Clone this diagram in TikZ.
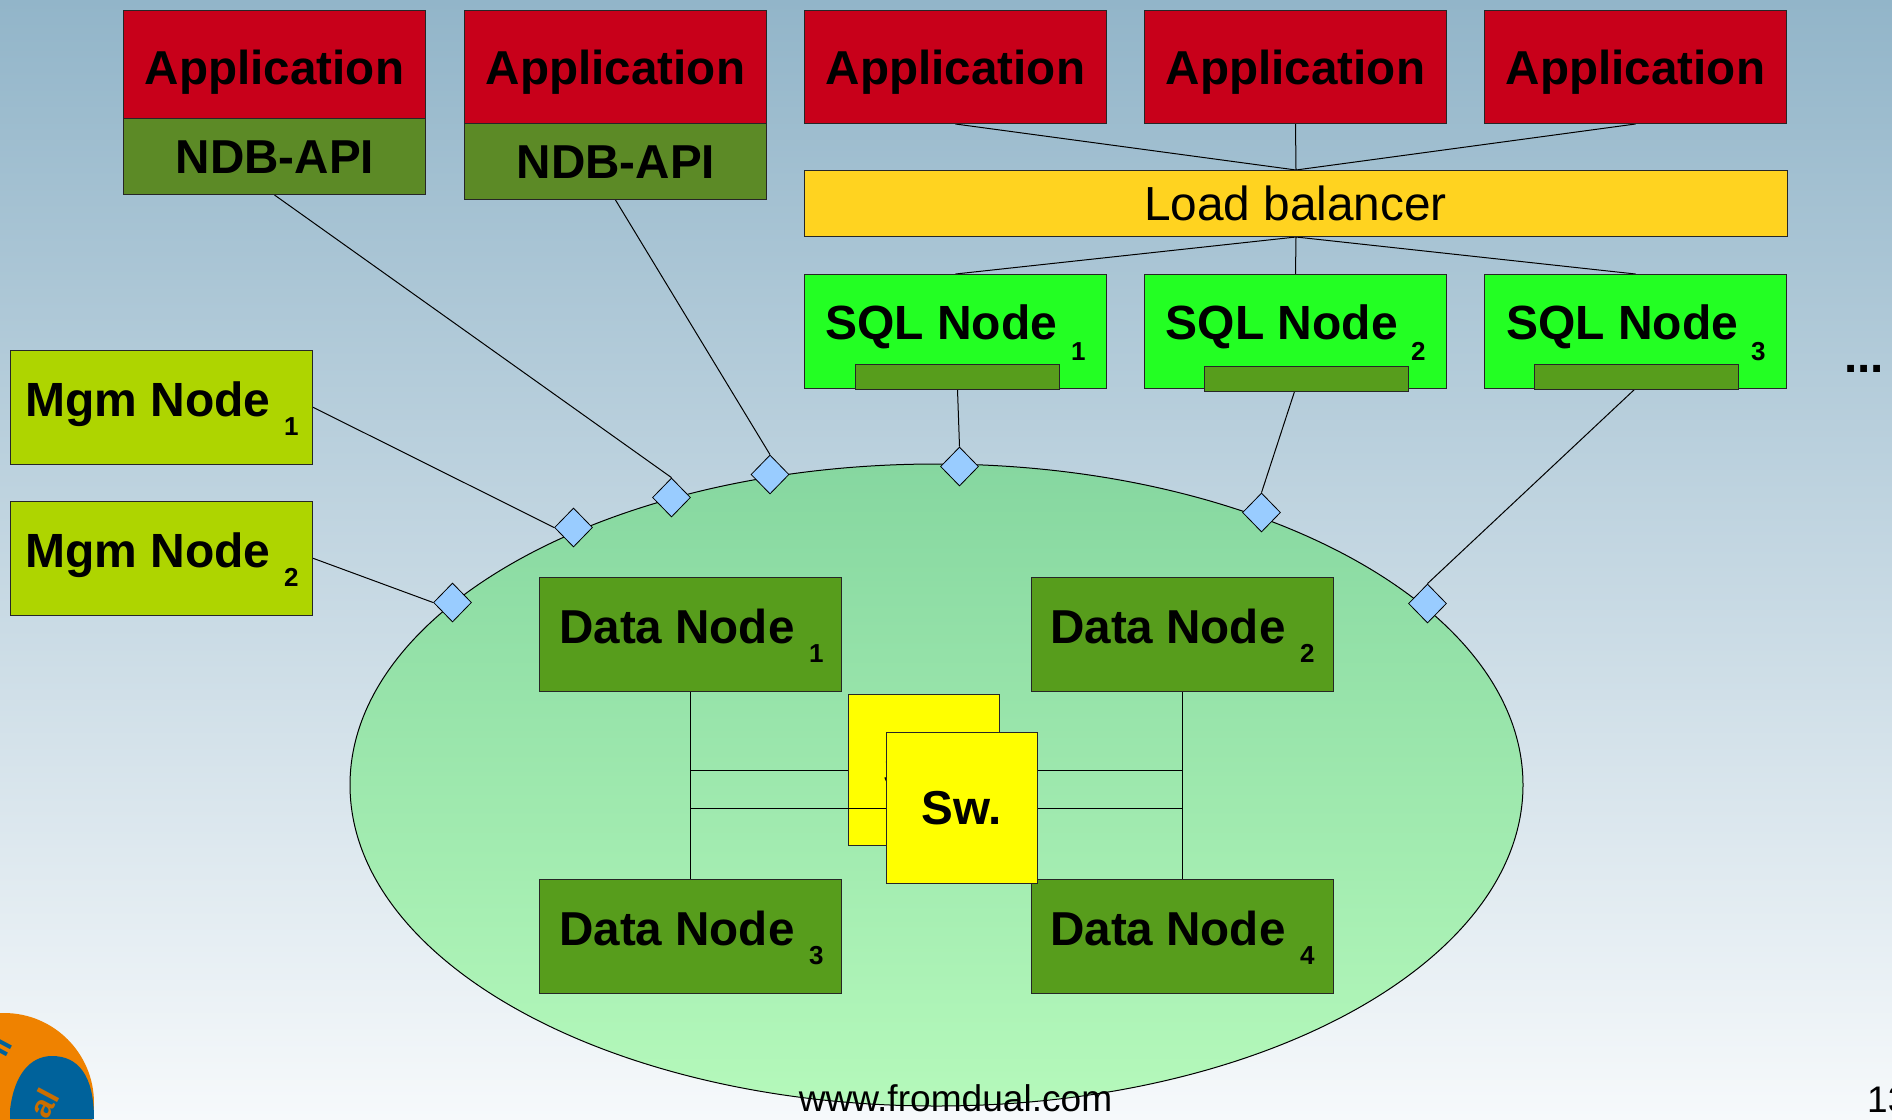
\documentclass[tikz,border=0pt]{standalone}
\usepackage{fontspec}
\setmainfont{Liberation Sans}
\usetikzlibrary{shapes.geometric}
\pgfdeclarelayer{bgl}
\pgfdeclarelayer{linel}
\pgfsetlayers{bgl,linel,main}
\definecolor{pgtop}{HTML}{92B5C9}
\definecolor{pgbot}{HTML}{F6F9FB}
\definecolor{appred}{HTML}{C8001A}
\definecolor{ndbgreen}{HTML}{5C8A26}
\definecolor{datagreen}{HTML}{579D1C}
\definecolor{sqlgreen}{HTML}{23FF23}
\definecolor{mgmgreen}{HTML}{AED500}
\definecolor{lbyellow}{HTML}{FFD320}
\definecolor{swyellow}{RGB}{255,255,0}
\definecolor{dia}{HTML}{99CCFF}
\definecolor{elltop}{HTML}{86D7A0}
\definecolor{ellbot}{HTML}{B5F9BB}
\definecolor{logoorange}{HTML}{EF8200}
\definecolor{logoblue}{HTML}{00629B}
\tikzset{
  box/.style={draw=black!85,line width=1pt,rectangle,inner sep=0pt,anchor=north west,minimum width=302pt},
  appbox/.style={box,fill=appred},
  ndbbox/.style={box,fill=ndbgreen,minimum height=76pt},
  sqlbox/.style={box,fill=sqlgreen,minimum height=113.5pt},
  mgmbox/.style={box,fill=mgmgreen,minimum height=113.5pt},
  databox/.style={box,fill=datagreen,minimum height=113.5pt},
  barbox/.style={box,fill=datagreen,minimum width=204pt,minimum height=25pt},
  swbox/.style={draw=black!85,line width=1pt,rectangle,fill=swyellow,minimum width=151pt,minimum height=151pt,inner sep=0pt,anchor=north west,font=\fontsize{47.6pt}{50pt}\bfseries},
  port/.style={draw=black,line width=0.8pt,diamond,fill=dia,inner sep=0pt,minimum width=38pt,minimum height=39pt},
  big/.style={inner sep=0pt,font=\fontsize{47.6pt}{50pt}\bfseries},
  bigw/.style={inner sep=0pt,anchor=base west,font=\fontsize{48pt}{50pt}\bfseries},
  plain/.style={inner sep=0pt,font=\fontsize{47.8pt}{50pt}\selectfont},
  sub/.style={inner sep=0pt,anchor=base west,font=\fontsize{26pt}{28pt}\bfseries},
  wire/.style={draw=black,line width=1pt},
}
\begin{document}
\begin{tikzpicture}[x=1pt,y=-1pt]
\useasboundingbox (0,0) rectangle (1892,1119);
\begin{pgfonlayer}{bgl}
  \shade[top color=pgtop,bottom color=pgbot] (0,0) rectangle (1892,1119);
  \node[draw=black,line width=1pt,ellipse,inner sep=0pt,minimum width=1173pt,minimum height=642pt,top color=elltop,bottom color=ellbot] (cluster) at (936.5,785) {};
  \fill[logoorange] (4,1103) circle (90);
  \fill[logoblue] (10,1119) -- (10,1110) .. controls (14,1075) and (30,1056) .. (52,1056) .. controls (78,1056) and (94,1075) .. (94,1119) -- cycle;
  \node[inner sep=0pt,rotate=62,text=logoorange!85!black,font=\fontsize{32pt}{34pt}\bfseries] (logotextb) at (44,1103) {al};
  \node[inner sep=0pt,rotate=62,text=logoblue,font=\fontsize{30pt}{32pt}\bfseries] (logotexta) at (0,1046) {ll};
  \node[swbox] (swback) at (848,694) {Sw.};
\end{pgfonlayer}

% Applications
\node[appbox,minimum height=108pt] (app1) at (123,10) {};
\node[appbox,minimum height=113pt] (app2) at (464,10) {};
\node[appbox,minimum height=113pt] (app3) at (804,10) {};
\node[appbox,minimum height=113pt] (app4) at (1144,10) {};
\node[appbox,minimum height=113pt] (app5) at (1484,10) {};
\node[big,anchor=base] (tapp1) at (274.5,84) {Application};
\node[big,anchor=base] (tapp2) at (615.5,84) {Application};
\node[big,anchor=base] (tapp3) at (955.5,84) {Application};
\node[big,anchor=base] (tapp4) at (1295.5,84) {Application};
\node[big,anchor=base] (tapp5) at (1635.5,84) {Application};
\node[ndbbox] (ndb1) at (123,118) {};
\node[ndbbox] (ndb2) at (464,123) {};
\node[big,anchor=base] (tndb1) at (275,173) {NDB-API};
\node[big,anchor=base] (tndb2) at (616,178) {NDB-API};

% Load balancer
\node[box,fill=lbyellow,minimum width=983pt,minimum height=66pt] (lb) at (804,170) {};
\node[plain,anchor=base] (tlb) at (1295.5,220) {Load balancer};

% SQL nodes
\node[sqlbox] (sql1) at (804,274) {};
\node[sqlbox] (sql2) at (1144,274) {};
\node[sqlbox] (sql3) at (1484,274) {};
\node[barbox] (bar1) at (855,363.5) {};
\node[barbox] (bar2) at (1204,366) {};
\node[barbox] (bar3) at (1534,363.5) {};
\node[bigw] (tsql1) at (825,339) {SQL Node};
\node[bigw] (tsql2) at (1165.5,339) {SQL Node};
\node[bigw] (tsql3) at (1506,339) {SQL Node};
\node[sub] (ssql1) at (1071,360) {1};
\node[sub] (ssql2) at (1411,360) {2};
\node[sub] (ssql3) at (1751,360) {3};

% Mgm nodes
\node[mgmbox] (mgm1) at (10,350) {};
\node[mgmbox] (mgm2) at (10,501) {};
\node[bigw] (tmgm1) at (25,416) {Mgm Node};
\node[bigw] (tmgm2) at (25,567) {Mgm Node};
\node[sub] (smgm1) at (284,435) {1};
\node[sub] (smgm2) at (284,586) {2};

% Data nodes
\node[databox] (dn1) at (539,577) {};
\node[databox] (dn2) at (1030.5,577) {};
\node[databox] (dn3) at (539,879) {};
\node[databox] (dn4) at (1030.5,879) {};
\node[big,anchor=base west] (tdn1) at (559,643) {Data Node};
\node[big,anchor=base west] (tdn2) at (1050,643) {Data Node};
\node[big,anchor=base west] (tdn3) at (559,945) {Data Node};
\node[big,anchor=base west] (tdn4) at (1050,945) {Data Node};
\node[sub] (sdn1) at (809,662) {1};
\node[sub] (sdn2) at (1300,662) {2};
\node[sub] (sdn3) at (809,964) {3};
\node[sub] (sdn4) at (1300,964) {4};

% Switch
\node[swbox] (swfront) at (886,732) {Sw.};

% Ports
\node[port] (pm1) at (573.5,527.5) {};
\node[port] (pm2) at (452.5,602.5) {};
\node[port] (pa1) at (671.5,497.5) {};
\node[port] (pa2) at (770,474.5) {};
\node[port] (ps1) at (959.5,466.5) {};
\node[port] (ps2) at (1261.5,512.5) {};
\node[port] (ps3) at (1427.5,603.5) {};

% Texts
\node[plain,anchor=base,font=\fontsize{37.1pt}{39pt}\selectfont] (url) at (955.5,1111) {www.fromdual.com};
\node[big,anchor=base] (dots) at (1864,372) {...};
\node[plain,anchor=base west,font=\fontsize{37pt}{39pt}\selectfont] (pageno) at (1867,1112) {13};

\begin{pgfonlayer}{linel}
  \draw[wire] (app3.south) -- (lb.north);
  \draw[wire] (app4.south) -- (lb.north);
  \draw[wire] (app5.south) -- (lb.north);
  \draw[wire] (lb.south) -- (sql1.north);
  \draw[wire] (lb.south) -- (sql2.north);
  \draw[wire] (lb.south) -- (sql3.north);
  \draw[wire] (ndb1.south) -- (pa1.north);
  \draw[wire] (ndb2.south) -- (pa2.north);
  \draw[wire] (bar1.south) -- (ps1.north);
  \draw[wire] (sql2.south) -- (ps2.north);
  \draw[wire] (sql3.south) -- (ps3.north);
  \draw[wire] (mgm1.east) -- (pm1.west);
  \draw[wire] (mgm2.east) -- (pm2.west);
  \draw[wire] (dn1.south) -- (dn3.north);
  \draw[wire] (dn2.south) -- (dn4.north);
  \draw[wire] (dn1.south |- swback.west) -- (swback.west);
  \draw[wire] (dn1.south |- swfront.west) -- (swfront.west);
  \draw[wire] (swfront.east |- swback.west) -- (dn2.south |- swback.west);
  \draw[wire] (swfront.east) -- (dn2.south |- swfront.east);
\end{pgfonlayer}
\end{tikzpicture}
\end{document}
